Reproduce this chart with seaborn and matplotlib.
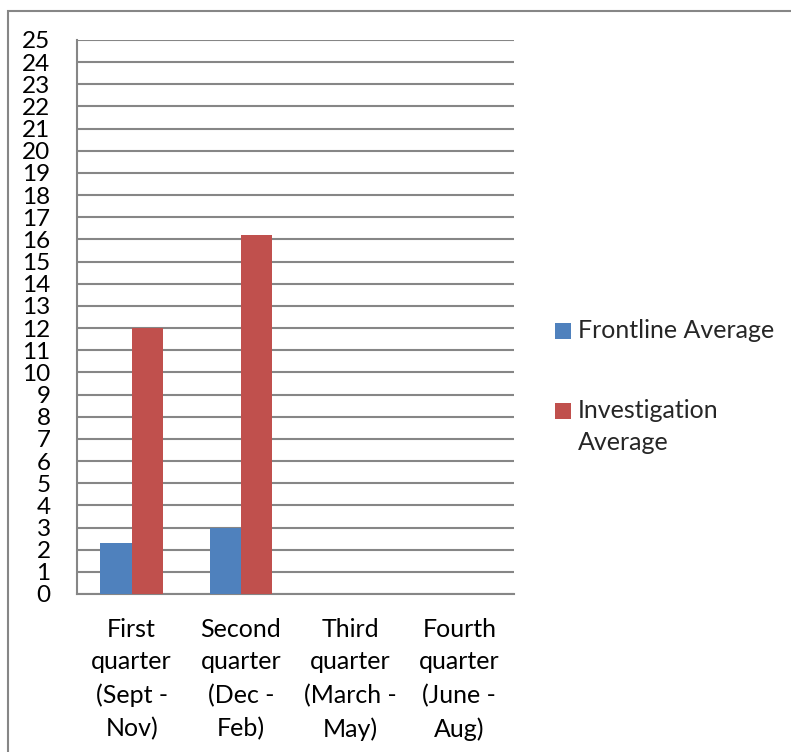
import matplotlib
matplotlib.use("Agg")
import matplotlib.pyplot as plt
from matplotlib.patches import Rectangle
from matplotlib.legend_handler import HandlerPatch
import numpy as np
import pandas as pd
import seaborn as sns

# Quarterly averages per team
quarters = [
    "First\nquarter\n(Sept -\nNov)",
    "Second\nquarter\n(Dec -\nFeb)",
    "Third\nquarter\n(March -\nMay)",
    "Fourth\nquarter\n(June -\nAug)",
]
frontline_avg = [2.3, 3.0, np.nan, np.nan]
investigation_avg = [12.0, 16.2, np.nan, np.nan]
series_names = ["Frontline Average", "Investigation Average"]
legend_labels = ["Frontline Average", "Investigation\nAverage"]
y_ticks = list(range(0, 26))

colors = ["#4F81BD", "#C0504D"]
grid_col = "#868686"

df = pd.DataFrame({
    "quarter": quarters * 2,
    "series": [series_names[0]] * 4 + [series_names[1]] * 4,
    "value": frontline_avg + investigation_avg,
})

sns.set_theme(style="white")
plt.rcParams["font.family"] = ["Lato", "DejaVu Sans"]

fig = plt.figure(figsize=(7.91, 7.52), dpi=100)
ax = fig.add_axes([77 / 791, 1 - 594 / 752, (514 - 77) / 791, (594 - 40) / 752])

sns.barplot(data=df, x="quarter", y="value", hue="series", order=quarters,
            hue_order=series_names, palette=colors, width=0.57,
            errorbar=None, saturation=1, ax=ax, legend=False, zorder=3)
for p in ax.patches:
    p.set_linewidth(0)

ax.set_ylim(0, 25)
ax.set_xlim(-0.5, 3.5)
ax.set_yticks(y_ticks)
ax.set_yticklabels([str(t) for t in y_ticks], fontsize=17.5, color="black")
ax.set_xticks(np.arange(-0.5, 4.0, 1.0), minor=True)
ax.set_xticks(range(len(quarters)))
ax.set_xticklabels(quarters, fontsize=18, color="black", linespacing=1.52)
ax.tick_params(axis="x", which="major", length=0, pad=17)
ax.tick_params(axis="x", which="minor", length=8, width=1.5, color=grid_col, direction="out")
ax.tick_params(axis="y", length=8, width=1.5, color=grid_col, direction="out", pad=11)
ax.set_xlabel("")
ax.set_ylabel("")

ax.yaxis.grid(True, color=grid_col, linewidth=1.5, zorder=0)
ax.set_axisbelow(True)
for side in ["top", "right"]:
    ax.spines[side].set_visible(False)
for side in ["left", "bottom"]:
    ax.spines[side].set_color(grid_col)
    ax.spines[side].set_linewidth(1.5)


def lowered_swatch(legend, orig_handle, xdescent, ydescent, width, height, fontsize):
    # square swatch nudged down to sit on the middle of the first text line
    return Rectangle((-xdescent, -ydescent - 3.0), width, height)


handles = [Rectangle((0, 0), 1, 1, facecolor=c, edgecolor="none") for c in colors]
leg = fig.legend(handles, legend_labels, loc="upper left",
                 bbox_to_anchor=(555 / 791, 1 - 319 / 752), frameon=False,
                 fontsize=18, handlelength=0.62, handleheight=0.62,
                 handletextpad=0.3, labelspacing=2.27, borderpad=0,
                 borderaxespad=0,
                 handler_map={Rectangle: HandlerPatch(patch_func=lowered_swatch)})
for t in leg.get_texts():
    t.set_linespacing(1.5)
# keep each swatch level with the first line of its label
for column in leg._legend_handle_box.get_children():
    for item in column.get_children():
        item.align = "top"

# chart frame
fig.patches.append(Rectangle((8 / 791, -0.1), 1.2, 1 - 11 / 752 + 0.1,
                             transform=fig.transFigure, fill=False,
                             edgecolor=grid_col, linewidth=1.5))

fig.savefig("out.png", dpi=100)
